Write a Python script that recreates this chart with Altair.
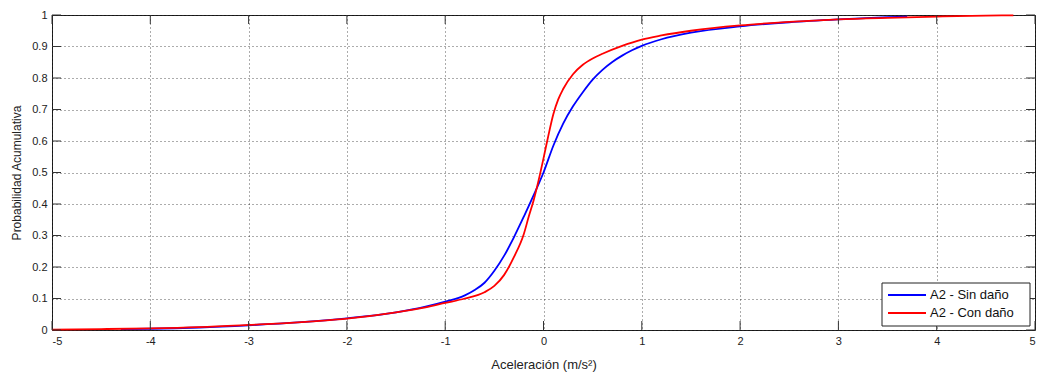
import altair as alt
import pandas as pd

# Cumulative probability curves of acceleration (sensor A2)
sin_x = [-4.3, -4.0, -3.5, -3.0, -2.5, -2.0, -1.5, -1.2, -1.0, -0.8, -0.7, -0.6, -0.5,
         -0.4, -0.3, -0.2, -0.1, 0.0, 0.1, 0.2, 0.3, 0.4, 0.5, 0.6, 0.7, 0.8, 0.9, 1.0,
         1.2, 1.5, 2.0, 2.5, 3.0, 3.5, 3.7]
sin_y = [0.003, 0.004, 0.008, 0.015, 0.024, 0.037, 0.056, 0.074, 0.090, 0.110, 0.127, 0.150, 0.188,
         0.236, 0.295, 0.360, 0.428, 0.500, 0.585, 0.655, 0.710, 0.755, 0.795, 0.826, 0.851, 0.871, 0.888, 0.902,
         0.923, 0.944, 0.964, 0.977, 0.986, 0.993, 0.995]

con_x = [-5.0, -4.5, -4.0, -3.5, -3.0, -2.5, -2.0, -1.5, -1.2, -1.0, -0.8, -0.6, -0.5,
         -0.4, -0.3, -0.2, -0.15, -0.1, -0.05, 0.0, 0.05, 0.1, 0.15, 0.2, 0.3, 0.4, 0.5,
         0.6, 0.8, 1.0, 1.2, 1.5, 2.0, 2.5, 3.0, 3.5, 4.0, 4.5, 4.78]
con_y = [0.001, 0.003, 0.005, 0.009, 0.016, 0.024, 0.036, 0.056, 0.072, 0.086, 0.100, 0.120, 0.140,
         0.175, 0.232, 0.305, 0.360, 0.412, 0.475, 0.545, 0.618, 0.685, 0.732, 0.765, 0.812, 0.842, 0.862,
         0.877, 0.902, 0.922, 0.935, 0.950, 0.967, 0.978, 0.986, 0.991, 0.995, 0.998, 0.999]

series_names = ["A2 - Sin daño", "A2 - Con daño"]
series_colors = ["#0000ff", "#ff0000"]

x_ticks = [-5, -4, -3, -2, -1, 0, 1, 2, 3, 4, 5]
y_ticks = [0, 0.1, 0.2, 0.3, 0.4, 0.5, 0.6, 0.7, 0.8, 0.9, 1]

W, H = 983, 315
FONT = "Liberation Sans"
TICK = 9

sin_df = pd.DataFrame({"x": sin_x, "y": sin_y, "serie": series_names[0]})
con_df = pd.DataFrame({"x": con_x, "y": con_y, "serie": series_names[1]})
xt_df = pd.DataFrame({"v": x_ticks})
yt_df = pd.DataFrame({"v": y_ticks})

x_scale = alt.Scale(domain=[-5, 5], nice=False, zero=False)
y_scale = alt.Scale(domain=[0, 1], nice=False, zero=False)
color_scale = alt.Scale(domain=series_names, range=series_colors)

x_axis = alt.Axis(values=x_ticks, labelExpr="toString(datum.value)", title="Aceleración (m/s²)",
                  ticks=False, domain=False, labelPadding=5, titlePadding=12,
                  labelOverlap=False, titleFontSize=13)
y_axis = alt.Axis(values=y_ticks, labelExpr="toString(datum.value)", title="Probabilidad Acumulativa",
                  ticks=False, domain=False, labelPadding=5, titlePadding=8,
                  labelOverlap=False)


def X(field):
    return alt.X(field, type="quantitative", scale=x_scale, axis=x_axis)


def Y(field):
    return alt.Y(field, type="quantitative", scale=y_scale, axis=y_axis)


def curve(df):
    return alt.Chart(df).mark_line(strokeWidth=1.8, interpolate="monotone").encode(
        x=X("x"), y=Y("y"),
        color=alt.Color("serie:N", scale=color_scale, legend=None),
    )


tick_color = "#333333"
x_ticks_bottom = alt.Chart(xt_df).mark_rule(color=tick_color, strokeWidth=1).encode(
    x=X("v"), y=alt.value(H), y2=alt.value(H - TICK))
x_ticks_top = alt.Chart(xt_df).mark_rule(color=tick_color, strokeWidth=1).encode(
    x=X("v"), y=alt.value(0), y2=alt.value(TICK))
y_ticks_left = alt.Chart(yt_df).mark_rule(color=tick_color, strokeWidth=1).encode(
    y=Y("v"), x=alt.value(0), x2=alt.value(TICK))
y_ticks_right = alt.Chart(yt_df).mark_rule(color=tick_color, strokeWidth=1).encode(
    y=Y("v"), x=alt.value(W), x2=alt.value(W - TICK))

# Legend box in the lower-right corner of the axes
one = pd.DataFrame({"k": [0]})
LX0, LX1, LY0, LY1 = 830, 978, 268, 311
ROW_Y = [280, 298]
legend_layers = [
    alt.Chart(one).mark_rect(fill="white", stroke="#222222", strokeWidth=1).encode(
        x=alt.value(LX0), x2=alt.value(LX1), y=alt.value(LY0), y2=alt.value(LY1))
]
for name, col, ry in zip(series_names, series_colors, ROW_Y):
    legend_layers.append(
        alt.Chart(one).mark_rule(strokeWidth=2, color=col).encode(
            x=alt.value(836), x2=alt.value(874), y=alt.value(ry)))
    legend_layers.append(
        alt.Chart(one).mark_text(align="left", baseline="middle", font=FONT, fontSize=13,
                                 color="#111111", text=name).encode(
            x=alt.value(878), y=alt.value(ry)))

chart = alt.layer(
    curve(sin_df), curve(con_df),
    x_ticks_bottom, x_ticks_top, y_ticks_left, y_ticks_right,
    *legend_layers,
).properties(
    width=W, height=H,
    autosize=alt.AutoSizeParams(type="none"),
    padding={"left": 52, "top": 15, "right": 13, "bottom": 43},
    background="white",
).configure_view(
    stroke="#222222", strokeWidth=1,
).configure_axis(
    labelFont=FONT, titleFont=FONT, labelFontSize=11, titleFontSize=12,
    labelColor="#222222", titleColor="#222222", titleFontWeight="normal",
    grid=True, gridColor="#000000", gridOpacity=0.65, gridDash=[1, 3], gridWidth=1,
)

chart.save("out.html", embed_options={"renderer": "svg", "actions": False})
